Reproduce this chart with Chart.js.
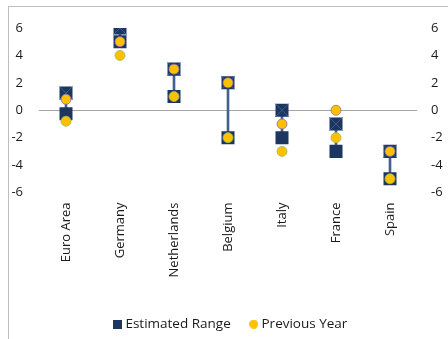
<!DOCTYPE html>
<html>
<head>
<meta charset="utf-8">
<script src="https://cdn.jsdelivr.net/npm/chart.js@4"></script>
<style>
  html, body { margin: 0; padding: 0; background: #fff; }
  #wrap { position: relative; width: 448px; height: 339px; overflow: hidden; }
  #frame { position: absolute; left: 8px; top: 6px; width: 460px; height: 360px;
           border-left: 1px solid #bfbfbf; border-top: 1px solid #bfbfbf; box-sizing: border-box; }
  canvas { position: absolute; left: 0; top: 0; }
</style>
</head>
<body>
<div id="wrap">
  <div id="frame"></div>
  <canvas id="chart" width="448" height="339"></canvas>
</div>
<script>
// Countries on the horizontal axis
const categories = ['Euro Area', 'Germany', 'Netherlands', 'Belgium', 'Italy', 'France', 'Spain'];
// Estimated range: upper and lower ends
const rangeHigh = [1.25, 6, 3, 2, 0, -1, -3];
const rangeLow  = [-0.25, 5, 1, -2, -2, -3, -5];
// Previous year: two readings per country
const prevHigh = [0.8, 5, 3, 2, -1, 0, -3];
const prevLow  = [-0.8, 4, 1, -2, -3, -2, -5];
// Axis ticks
const yTicks = [-6, -4, -2, 0, 2, 4, 6];

const NAVY = '#1c365f';
const GOLD = '#ffc000';
const FONT = "'Open Sans', 'Noto Sans', sans-serif";

// small legend icons
function icon(kind) {
  const c = document.createElement('canvas');
  c.width = 9; c.height = 9;
  const g = c.getContext('2d');
  if (kind === 'square') {
    g.fillStyle = NAVY; g.fillRect(0, 0, 9, 9);
  } else {
    g.fillStyle = GOLD; g.beginPath(); g.arc(4.5, 4.5, 4.5, 0, Math.PI * 2); g.fill();
  }
  return c;
}
const squareIcon = icon('square');
const circleIcon = icon('circle');

// nudge the legend a little right / down after layout
const legendShift = {
  id: 'legendShift',
  afterLayout(chart) {
    const lg = chart.legend;
    if (!lg) return;
    lg.left += 8; lg.right += 8;
    lg.top += 2; lg.bottom += 2;
  }
};

const pointSet = (label, data, extra) => Object.assign({
  type: 'line', label, data, showLine: false, yAxisID: 'y'
}, extra);

new Chart(document.getElementById('chart'), {
  type: 'bar',
  plugins: [legendShift],
  data: {
    labels: categories,
    datasets: [
      {
        label: 'range-line',
        data: rangeLow.map((lo, i) => [lo, rangeHigh[i]]),
        backgroundColor: '#45618e',
        barThickness: 2,
        yAxisID: 'y',
        order: 10
      },
      pointSet('Estimated Range', rangeHigh, {
        pointStyle: 'rect', pointRadius: 9.2, pointBackgroundColor: NAVY,
        pointBorderWidth: 0, borderColor: NAVY, backgroundColor: NAVY, order: 6
      }),
      pointSet('range-low', rangeLow, {
        pointStyle: 'rect', pointRadius: 9.2, pointBackgroundColor: NAVY,
        pointBorderWidth: 0, borderColor: NAVY, order: 6
      }),
      pointSet('range-high-mark', rangeHigh, {
        pointStyle: 'crossRot', pointRadius: 9.2, pointBorderColor: '#3a5c92',
        pointBorderWidth: 1, borderColor: '#3a5c92', order: 5
      }),
      pointSet('Previous Year', prevHigh, {
        pointStyle: 'circle', pointRadius: 5, pointBackgroundColor: GOLD,
        pointBorderColor: '#8a6fae', pointBorderWidth: 0.8, borderColor: GOLD, backgroundColor: GOLD, order: 1
      }),
      pointSet('prev-low', prevLow, {
        pointStyle: 'circle', pointRadius: 5, pointBackgroundColor: GOLD,
        pointBorderColor: '#9bbb59', pointBorderWidth: 0.8, borderColor: GOLD, order: 1
      })
    ]
  },
  options: {
    responsive: false,
    animation: false,
    events: [],
    layout: { padding: { left: 0, right: 0, top: 28, bottom: 0 } },
    plugins: {
      tooltip: { enabled: false },
      legend: {
        position: 'bottom',
        labels: {
          generateLabels: () => ['Estimated Range', 'Previous Year'].map((t, k) => ({
            text: t,
            pointStyle: k === 0 ? squareIcon : circleIcon,
            fillStyle: k === 0 ? NAVY : GOLD,
            strokeStyle: 'transparent',
            lineWidth: 0,
            fontColor: '#1a1a1a',
            datasetIndex: k === 0 ? 1 : 4
          })),
          usePointStyle: true,
          pointStyleWidth: 2,
          boxHeight: 9,
          padding: 22,
          color: '#1a1a1a',
          font: { family: FONT, size: 13.5 }
        }
      }
    },
    scales: {
      x: {
        offset: true,
        grid: { display: false, drawTicks: false },
        border: { display: false },
        ticks: {
          minRotation: 90, maxRotation: 90, padding: 10,
          color: '#1a1a1a', font: { family: FONT, size: 13 }
        },
        afterFit: (s) => { s.height = 101; }
      },
      y: {
        position: 'left',
        min: -6, max: 6,
        afterBuildTicks: (s) => { s.ticks = yTicks.map(v => ({ value: v })); },
        grid: {
          drawTicks: false,
          color: (ctx) => ctx.tick && ctx.tick.value === 0 ? '#a6a6a6' : 'transparent',
          lineWidth: 1
        },
        border: { display: false },
        ticks: { padding: 16, color: '#1a1a1a', font: { family: FONT, size: 13 } },
        afterFit: (s) => { s.width = 39; }
      },
      y2: {
        position: 'right',
        min: -6, max: 6,
        afterBuildTicks: (s) => { s.ticks = yTicks.map(v => ({ value: v })); },
        grid: { display: false, drawTicks: false },
        border: { display: false },
        ticks: { padding: 14, color: '#1a1a1a', font: { family: FONT, size: 13 } },
        afterFit: (s) => { s.width = 31; }
      }
    }
  }
});
</script>
</body>
</html>
